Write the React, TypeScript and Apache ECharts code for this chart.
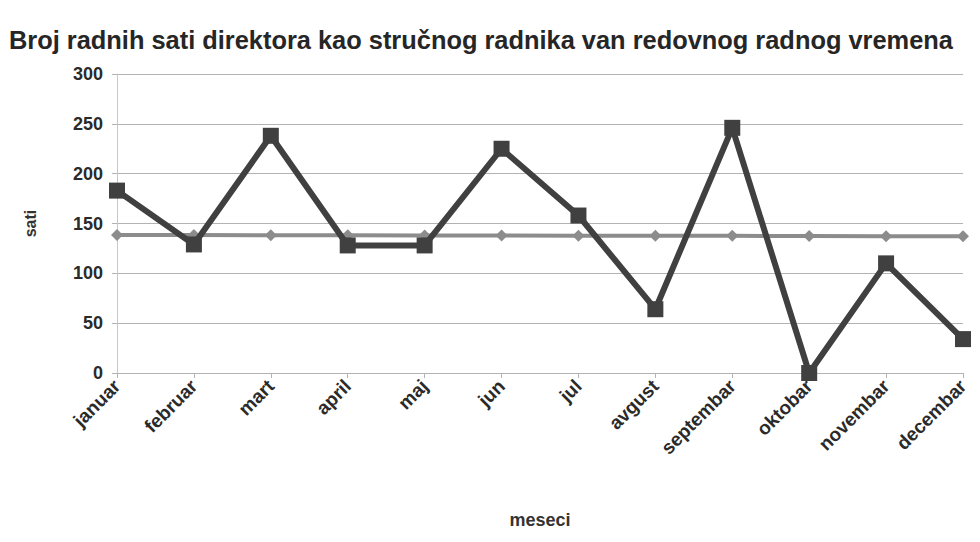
import React, { useEffect, useRef } from "react";
import * as echarts from "echarts";

const months = [
  "januar", "februar", "mart", "april", "maj", "jun",
  "jul", "avgust", "septembar", "oktobar", "novembar", "decembar",
];
const hours = [183, 129, 238, 128, 128, 225, 158, 64, 246, 0, 110, 34];
const trend = [138.5, 138.4, 138.2, 138.1, 138, 137.9, 137.8, 137.7, 137.6, 137.5, 137.3, 137.2];
const yTicks = [0, 50, 100, 150, 200, 250, 300];

const titleText = "Broj radnih sati direktora kao stručnog radnika van redovnog radnog vremena";

export default function App() {
  const ref = useRef<HTMLDivElement>(null);
  useEffect(() => {
    if (!ref.current) return;
    const chart = echarts.init(ref.current, undefined, { renderer: "svg" });
    chart.setOption({
      animation: false,
      backgroundColor: "#ffffff",
      textStyle: { fontFamily: "Liberation Sans" },
      title: {
        text: titleText,
        left: -4,
        top: 14,
        textStyle: { fontSize: 25.4, fontWeight: "bold", color: "#262626", fontFamily: "Liberation Sans" },
      },
      grid: { left: 109, right: 9, top: 66, height: 306 },
      xAxis: {
        type: "category",
        data: months,
        boundaryGap: false,
        name: "meseci",
        nameLocation: "middle",
        nameGap: 138,
        nameTextStyle: { fontSize: 18, color: "#333", fontWeight: "bold" },
        axisLine: { show: true, lineStyle: { color: "#b3b3b3", width: 1 } },
        axisTick: { show: true, length: 5, lineStyle: { color: "#b3b3b3" } },
        axisLabel: {
          rotate: 45,
          fontSize: 19,
          fontWeight: "bold",
          color: "#2a2a2a",
          margin: 10,
          interval: 0,
        },
        splitLine: { show: false },
      },
      yAxis: {
        type: "value",
        min: yTicks[0],
        max: yTicks[yTicks.length - 1],
        interval: 50,
        name: "sati",
        nameLocation: "middle",
        nameGap: 79,
        nameTextStyle: { fontSize: 16, color: "#333", fontWeight: "bold" },
        axisLine: { show: true, lineStyle: { color: "#c8c8c8", width: 1 } },
        axisTick: { show: true, length: 5, lineStyle: { color: "#b3b3b3" } },
        axisLabel: { fontSize: 18, fontWeight: "bold", color: "#2a2a2a", margin: 14 },
        splitLine: { show: true, lineStyle: { color: "#b3b3b3", width: 1 } },
      },
      series: [
        {
          name: "sati",
          type: "line",
          data: hours,
          symbol: "rect",
          symbolSize: 16,
          lineStyle: { color: "#404040", width: 6 },
          itemStyle: { color: "#404040" },
          z: 3,
        },
        {
          name: "trend",
          type: "line",
          data: trend,
          symbol: "diamond",
          symbolSize: 12,
          lineStyle: { color: "#8c8c8c", width: 4 },
          itemStyle: { color: "#8c8c8c" },
          z: 2,
        },
      ],
    });
    return () => chart.dispose();
  }, []);
  return <div ref={ref} style={{ width: 964, height: 526 }} />;
}
